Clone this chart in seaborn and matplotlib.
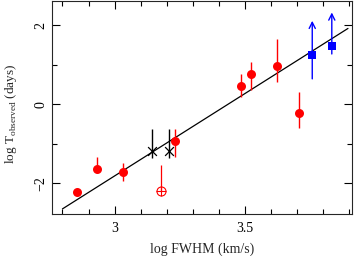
import numpy as np
import matplotlib
matplotlib.use("Agg")
import matplotlib.pyplot as plt
import seaborn as sns

# --- data ---
red_x = [2.857, 2.931, 3.032, 3.233, 3.486, 3.523, 3.624, 3.708]
red_y = [-2.23, -1.64, -1.72, -0.94, 0.46, 0.77, 0.96, -0.23]
red_lo = [0.0, 0.0, 0.22, 0.40, 0.28, 0.41, 0.39, 0.38]
red_hi = [0.0, 0.31, 0.23, 0.30, 0.31, 0.29, 0.70, 0.53]

open_x = [3.176]
open_y = [-2.20]
open_hi = [0.67]

star_x = [3.143, 3.210]
star_y = [-1.19, -1.19]
star_lo = [0.17, 0.17]
star_hi = [0.57, 0.57]

blue_x = [3.758, 3.833]
blue_y = [1.25, 1.46]
blue_lo = [0.61, 0.19]
blue_top = [2.11, 2.32]  # lower limits -> arrows

fit_slope = 4.17
fit_intercept = -14.326
fit_range = [2.80, 3.895]

sns.set_style("ticks")
plt.rcParams["font.family"] = ["Liberation Serif", "DejaVu Serif"]
plt.rcParams["mathtext.fontset"] = "custom"
plt.rcParams["mathtext.rm"] = "Liberation Serif"

fig, ax = plt.subplots(figsize=(3.54, 2.56), dpi=100)
fig.subplots_adjust(left=0.147, right=0.994, top=0.996, bottom=0.164)

# regression line
fx = np.array(fit_range)
ax.plot(fx, fit_slope * fx + fit_intercept, color="black", lw=0.9, zorder=1)

# red filled points
ax.errorbar(red_x, red_y, yerr=[red_lo, red_hi], fmt="none", ecolor="red",
            elinewidth=1.0, capsize=0, zorder=2)
sns.scatterplot(x=red_x, y=red_y, ax=ax, color="red", s=42, marker="o",
                edgecolor="red", linewidth=0, zorder=3)

# open red point
ax.errorbar(open_x, open_y, yerr=[[0], open_hi], fmt="none", ecolor="red",
            elinewidth=0.9, capsize=0, zorder=2)
ax.plot(open_x, open_y, marker="o", ms=6.5, mfc="none", mec="red", mew=0.8, ls="none", zorder=3)
ax.plot(open_x, open_y, marker="+", ms=6.5, mec="red", mew=0.8, ls="none", zorder=3)

# black crosses
ax.errorbar(star_x, star_y, yerr=[star_lo, star_hi], fmt="none", ecolor="black",
            elinewidth=1.0, capsize=0, zorder=2)
sns.scatterplot(x=star_x, y=star_y, ax=ax, color="black", s=40, marker="x",
                linewidth=0.9, zorder=3)

# blue squares with lower-limit arrows
for x, y, lo, top in zip(blue_x, blue_y, blue_lo, blue_top):
    ax.annotate("", xy=(x, top), xytext=(x, y - lo),
                arrowprops=dict(arrowstyle="->", color="blue", lw=1.0,
                                mutation_scale=11, shrinkA=0, shrinkB=0),
                zorder=2)
sns.scatterplot(x=blue_x, y=blue_y, ax=ax, color="blue", s=36, marker="s",
                linewidth=0, zorder=3)

ax.set_xlim(2.76, 3.91)
ax.set_ylim(-2.78, 2.61)
ax.set_xticks([3, 3.5])
ax.set_xticklabels(["3", "3.5"])
ax.set_xticks(np.arange(2.8, 3.95, 0.1), minor=True)
ax.set_yticks([-2, 0, 2])
ax.set_yticklabels(["\u22122", "0", "2"], rotation=90, va="center")
ax.set_yticks([-1, 1], minor=True)
ax.tick_params(which="both", direction="in", top=True, right=True,
               labelsize=10, width=0.8, colors="black")
ax.tick_params(which="major", length=6)
ax.tick_params(axis="x", which="major", pad=6)
ax.tick_params(which="minor", length=3.5)
for s in ax.spines.values():
    s.set_linewidth(0.8)

ax.set_xlabel("log FWHM (km/s)", fontsize=10)
ax.xaxis.set_label_coords(0.5, -0.135)
ax.set_ylabel(r"log T$_{\rm observed}$ (days)", fontsize=9.5)
ax.yaxis.set_label_coords(-0.11, 0.47)

fig.savefig("out.png", dpi=100)
